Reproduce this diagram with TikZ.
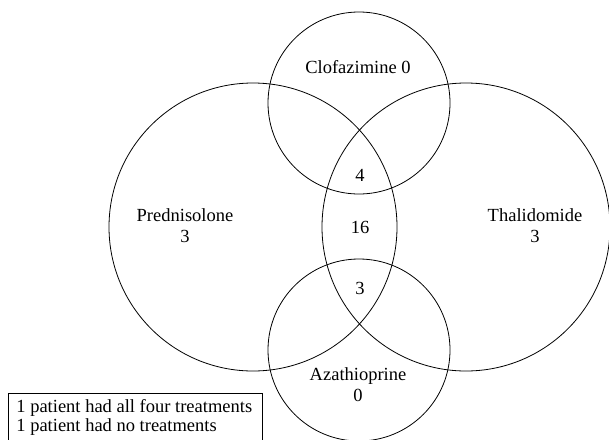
\documentclass[tikz,border=0pt]{standalone}
\usepackage{fontspec}
\setmainfont{Liberation Serif}
\begin{document}
\begin{tikzpicture}[x=1pt,y=-1pt,line width=0.8pt]
\tikzset{etiq/.style={font=\fontsize{18.5}{21}\selectfont,align=center,inner sep=0pt}}
\useasboundingbox (0,0) rectangle (609,439);
\clip (0,0) rectangle (609,439);

\coordinate (clofa) at (359,103);%centre du cercle du haut
\coordinate (predni) at (253,227);%centre du cercle de gauche
\coordinate (thali) at (466,227);%centre du cercle de droite
\coordinate (azathio) at (359,350);%centre du cercle du bas

\draw (clofa) circle (91pt);%Clofazimine
\draw (predni) circle (144pt);%Prednisolone
\draw (thali) circle (144pt);%Thalidomide
\draw (azathio) circle (91pt);%Azathioprine

\node[etiq] (n_clofa) at (358,67){Clofazimine 0};
\node[etiq] (n_predni) at (185,226){Prednisolone\\3};
\node[etiq] (n_thali) at (535,226){Thalidomide\\3};
\node[etiq] (n_azathio) at (358,385){Azathioprine\\0};
\node[etiq] (n_haut) at (360,175){4};
\node[etiq] (n_centre) at (360,227){16};
\node[etiq] (n_bas) at (360,288){3};

\draw (8,393) rectangle (262,450);%le cadre de la legende
\node[etiq,anchor=west] (n_tous) at (16,408){1 patient had all four treatments};
\node[etiq,anchor=west] (n_aucun) at (16,427){1 patient had no treatments};

\end{tikzpicture}
\end{document}
